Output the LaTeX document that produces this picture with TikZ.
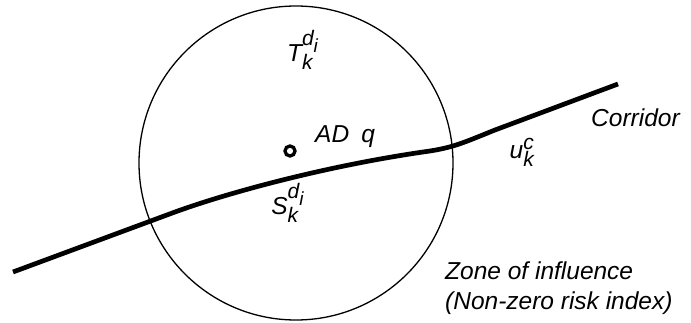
\documentclass[tikz,border=0pt]{standalone}
\usepackage{fontspec}
\setmainfont{Liberation Sans}
\DeclareMathSizes{24.5}{24.5}{21}{19}
\newcommand\mv[1]{\mathit{#1}}
\begin{document}
\begin{tikzpicture}[x=1pt,y=-1pt,
  lbl/.style={font=\fontsize{24.5}{30}\selectfont\itshape, inner sep=0pt}]
\useasboundingbox (0,0) rectangle (691,323);

% zone of influence
\draw[line width=1.3pt] (296,163) circle (157);

% corridor
\draw[line width=4.7pt] (13,272) -- (175,212)
  .. controls (230,192) and (330,165) .. (430,151)
  .. controls (455,147) and (465,142) .. (495,130) -- (618,84);

% AD location
\draw[line width=3.3pt] (290,151) circle (5);

\node[lbl] (tk) at (303,50) {$\mv{T}_{\mv{k}}^{\mv{d}_{\mv{i}}}$};
\node[lbl, anchor=west] (ad) at (315,137) {AD\hspace{0.5em}$\mv{q}$};
\node[lbl] (sk) at (288,203) {$\mv{S}_{\mv{k}}^{\mv{d}_{\mv{i}}}$};
\node[lbl] (uk) at (522,152) {$\mv{u}_{\mv{k}}^{\mv{c}}$};
\node[lbl, anchor=west] (cor) at (591,118) {Corridor};
\node[lbl, anchor=north west, align=left] (zone) at (445,262)
  {Zone of influence\\(Non-zero risk index)};
\end{tikzpicture}
\end{document}
